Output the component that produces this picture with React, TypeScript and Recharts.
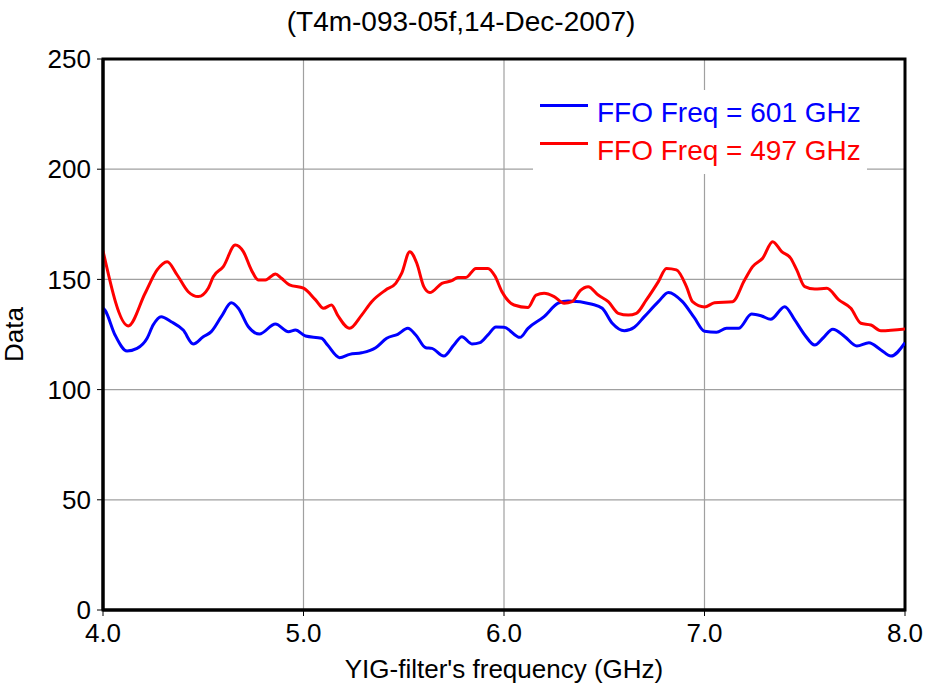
import { LineChart, Line, XAxis, YAxis, CartesianGrid, Legend, ReferenceArea } from 'recharts';

// FFO Freq = 601 GHz (blue)
const blueFreq = [
  4.0, 4.01, 4.06, 4.12, 4.17, 4.22, 4.25, 4.29, 4.34, 4.4, 4.45, 4.5, 4.54, 4.59, 4.64, 4.675,
  4.725, 4.78, 4.86, 4.925, 4.96, 5.01, 5.09, 5.12, 5.18, 5.23, 5.29, 5.36, 5.415, 5.47, 5.52,
  5.56, 5.61, 5.64, 5.7, 5.75, 5.79, 5.84, 5.88, 5.92, 5.96, 6.0, 6.08, 6.12, 6.2, 6.27, 6.32,
  6.44, 6.49, 6.54, 6.6, 6.65, 6.7, 6.77, 6.82, 6.89, 6.95, 7.0, 7.06, 7.11, 7.17, 7.235, 7.285,
  7.33, 7.4, 7.45, 7.5, 7.55, 7.59, 7.64, 7.7, 7.76, 7.82, 7.88, 7.93, 8.0,
];
const blueData = [
  137, 136, 124.8, 117.5, 118.7, 123.3, 129.3, 133.1, 130.8, 127, 120.7, 124, 126.3, 133.1, 139.4, 136.9,
  128.5, 125.2, 129.8, 126.3, 127, 124.3, 123.3, 120.2, 114.5, 116, 116.7, 119, 123.3, 125.1, 127.8,
  124.8, 119, 118.7, 115.2, 120.2, 124, 120.7, 121.3, 124.8, 128.4, 128.3, 123.7, 127.8, 133.1, 139.2, 140.2,
  138.7, 136.9, 130.1, 126.7, 128.3, 133.1, 139.9, 144.1, 139.9, 132.5, 126.5, 126, 127.8, 127.8, 134.3, 133.4,
  131.9, 137.6, 131.6, 124.8, 120.2, 123.3, 127.4, 124, 119.8, 121.3, 118, 115.2, 121.3,
];

// FFO Freq = 497 GHz (red)
const redFreq = [
  4.0, 4.126, 4.21, 4.27, 4.32, 4.37, 4.425, 4.475, 4.525, 4.55, 4.6, 4.66, 4.7, 4.74, 4.775, 4.81,
  4.86, 4.89, 4.93, 5.0, 5.06, 5.1, 5.14, 5.17, 5.23, 5.29, 5.34, 5.41, 5.46, 5.49, 5.53, 5.565,
  5.6, 5.63, 5.69, 5.74, 5.77, 5.81, 5.86, 5.92, 5.955, 5.99, 6.05, 6.12, 6.16, 6.2, 6.25, 6.3,
  6.34, 6.38, 6.42, 6.47, 6.52, 6.57, 6.62, 6.66, 6.71, 6.77, 6.81, 6.86, 6.91, 6.94, 7.0, 7.05,
  7.14, 7.2, 7.24, 7.29, 7.34, 7.385, 7.43, 7.46, 7.5, 7.55, 7.61, 7.67, 7.73, 7.78, 7.83, 7.88, 8.0,
];
const redData = [
  163, 128.9, 143.7, 154.3, 158, 152, 144.4, 142.2, 146, 151.2, 155.8, 165.6, 162.6, 154.3, 149.7, 149.7,
  152.5, 150.5, 147.5, 146, 140.7, 136.9, 138.4, 133.8, 127.8, 133.8, 139.9, 145.2, 148.2, 152.8, 162.6, 157.3,
  146.7, 144, 148.2, 149.4, 150.9, 150.9, 155, 155, 151.5, 144.4, 138.4, 137.3, 142.9, 143.7, 142.2, 139.2,
  139.9, 144.9, 146.7, 142.9, 139.9, 134.6, 133.8, 134.6, 140.7, 149, 155, 154.3, 146.7, 139.9, 137.5, 139.4,
  139.9, 149.7, 155.8, 159.6, 167.1, 162.6, 159.6, 154.3, 146.7, 145.6, 146, 140.7, 136.9, 130.1, 129.3, 126.7, 127.5,
];

const xTicks = [4, 5, 6, 7, 8];
const yTicks = [0, 50, 100, 150, 200, 250];

const series = [
  { name: 'FFO Freq = 601 GHz', color: '#0000ff', points: blueFreq.map((x, i) => ({ x, y: blueData[i] })) },
  { name: 'FFO Freq = 497 GHz', color: '#ff0000', points: redFreq.map((x, i) => ({ x, y: redData[i] })) },
];

const FONT = '"Liberation Sans", Arial, sans-serif';
const tickStyle = { fill: '#000', fontSize: 26, fontFamily: FONT };

const LegendBox = () => (
  <div style={{ background: '#fff', padding: '4px 6px 4px 7px', fontFamily: FONT }}>
    {series.map((s) => (
      <div key={s.name} style={{ display: 'flex', alignItems: 'center', height: 38 }}>
        <div style={{ width: 48, height: 3, background: s.color, position: 'relative', top: -8, marginRight: 9 }} />
        <span style={{ color: s.color, fontSize: 28, whiteSpace: 'nowrap' }}>{s.name}</span>
      </div>
    ))}
  </div>
);

export default function App() {
  return (
    <div style={{ position: 'absolute', left: 0, top: 0, width: 926, height: 688, background: '#fff', fontFamily: FONT }}>
      <div style={{ position: 'absolute', left: 0, top: 7, width: 922, textAlign: 'center', fontSize: 28, lineHeight: '30px' }}>
        (T4m-093-05f,14-Dec-2007)
      </div>
      <LineChart width={926} height={688} margin={{ top: 59, right: 21, bottom: 0, left: 0 }}>
        <CartesianGrid stroke="#a0a0a0" strokeWidth={1.2} />
        <XAxis
          dataKey="x"
          type="number"
          domain={[4, 8]}
          ticks={xTicks}
          tickFormatter={(v: number) => v.toFixed(1)}
          height={78}
          tick={tickStyle}
          tickSize={6}
          tickMargin={8}
          axisLine={{ stroke: '#000', strokeWidth: 3 }}
          tickLine={{ stroke: '#000' }}
          label={{ value: "YIG-filter's frequency (GHz)", position: 'insideBottom', offset: 10, fill: '#000', fontSize: 26, fontFamily: FONT }}
          allowDataOverflow
        />
        <YAxis
          type="number"
          domain={[0, 250]}
          ticks={yTicks}
          width={103}
          tick={tickStyle}
          tickSize={6}
          tickMargin={6}
          axisLine={{ stroke: '#000', strokeWidth: 3 }}
          tickLine={{ stroke: '#000' }}
          label={{ value: 'Data', angle: -90, position: 'insideLeft', offset: 14, fill: '#000', fontSize: 26, fontFamily: FONT, style: { textAnchor: 'middle' } }}
        />
        <Legend
          layout="vertical"
          align="center"
          verticalAlign="middle"
          content={<LegendBox />}
          wrapperStyle={{ position: 'absolute', left: 533, top: 90, width: 'auto', height: 'auto' }}
        />
        {series.map((s) => (
          <Line
            key={s.name}
            data={s.points}
            dataKey="y"
            name={s.name}
            type="monotone"
            stroke={s.color}
            strokeWidth={3}
            dot={false}
            isAnimationActive={false}
          />
        ))}
        <ReferenceArea x1={4} x2={8} y1={0} y2={250} fill="none" fillOpacity={0} stroke="#000" strokeWidth={3} />
      </LineChart>
    </div>
  );
}
